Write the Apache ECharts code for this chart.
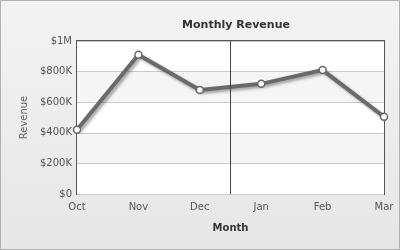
<!DOCTYPE html>
<html><head><meta charset="utf-8">
<script src="https://cdn.jsdelivr.net/npm/echarts@6/dist/echarts.min.js"></script>
<style>
html,body{margin:0;padding:0;}
#c{width:400px;height:250px;box-sizing:border-box;border:1px solid #b0b0b0;background:linear-gradient(180deg,#f3f3f3 0%,#e6e6e6 100%);}
</style></head>
<body><div id="c"></div>
<script>
const categories = ['Oct','Nov','Dec','Jan','Feb','Mar'];
const revenue = [420000, 910000, 680000, 720000, 810000, 505000];
const yTicks = {0:'$0',200000:'$200K',400000:'$400K',600000:'$600K',800000:'$800K',1000000:'$1M'};
const dividerAt = 2.5;

const chart = echarts.init(document.getElementById('c'), null, {renderer:'canvas'});
const font = 'DejaVu Sans, Verdana, sans-serif';
chart.setOption({
  backgroundColor: 'transparent',
  animation: false,
  title: {text:'Monthly Revenue', left: 230, top: 14, textAlign:'center',
    textStyle:{fontFamily:font, fontSize:11, fontWeight:'bold', color:'#333'}},
  grid: {left:76, right:15, top:40, bottom:55, show:true, backgroundColor:'#fff', borderColor:'#555', borderWidth:2},
  xAxis: {type:'value', min:0, max:categories.length-1, interval:1,
    name:'Month', nameLocation:'middle', nameGap:29,
    nameTextStyle:{fontFamily:font, fontSize:10, fontWeight:'bold', color:'#333'},
    axisLine:{show:false}, axisTick:{show:false}, splitLine:{show:false},
    axisLabel:{fontFamily:font, fontSize:10, color:'#555', margin:8,
      formatter:v=>categories[v] ?? ''}},
  yAxis: {type:'value', min:0, max:1000000, interval:200000,
    name:'Revenue', nameLocation:'middle', nameGap:48,
    nameTextStyle:{fontFamily:font, fontSize:10, color:'#666'},
    axisLine:{show:false}, axisTick:{show:false},
    splitLine:{lineStyle:{color:'#c8c8c8', width:1}},
    splitArea:{show:true, areaStyle:{color:['#ffffff','#f5f5f5']}},
    axisLabel:{fontFamily:font, fontSize:10, color:'#555', margin:5,
      formatter:v=>yTicks[v] ?? ''}},
  series: [{
    type:'line',
    data: revenue.map((v,i)=>[i,v]),
    symbol:'circle', symbolSize:7,
    itemStyle:{color:'#fff', borderColor:'#666', borderWidth:1.5},
    lineStyle:{color:'#6a6a6a', width:4, shadowColor:'rgba(0,0,0,0.35)', shadowBlur:3, shadowOffsetX:2, shadowOffsetY:2},
    z:3,
    markLine:{silent:true, symbol:'none', label:{show:false},
      lineStyle:{color:'#444', width:1, type:'solid'},
      data:[{xAxis:dividerAt}]}
  }]
});
</script></body></html>
